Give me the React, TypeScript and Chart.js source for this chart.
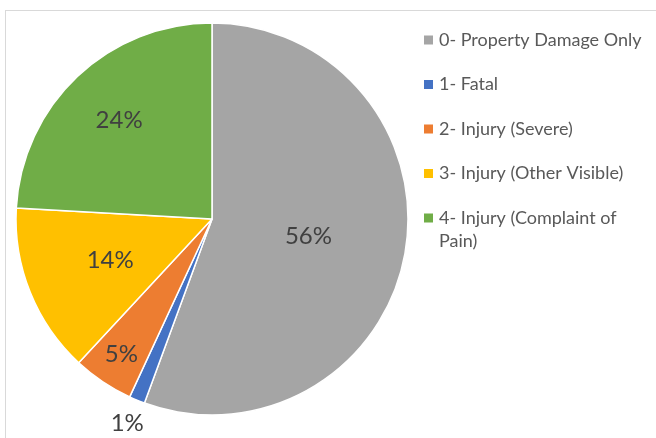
import React, { useEffect, useRef } from "react";
import { Chart, registerables } from "chart.js";

Chart.register(...registerables);

const categories = [
  "0- Property Damage Only",
  "1- Fatal",
  "2- Injury (Severe)",
  "3- Injury (Other Visible)",
  "4- Injury (Complaint of Pain)",
];
const shares = [55.6, 1.3, 5.0, 14.0, 24.1];
const colors = ["#A5A5A5", "#4472C4", "#ED7D31", "#FFC000", "#70AD47"];
// radial position of each percentage label, as a fraction of the radius
const labelRadius = [0.5, 1.13, 0.83, 0.56, 0.69];

const FONT = "Lato, 'Open Sans', sans-serif";

const labelPlugin = {
  id: "pctLabels",
  afterDatasetsDraw(chart: any) {
    const { ctx } = chart;
    const meta = chart.getDatasetMeta(0);
    const data = chart.data.datasets[0].data as number[];
    const total = data.reduce((a, b) => a + b, 0);
    ctx.save();
    ctx.fillStyle = "#404040";
    ctx.font = `24px ${FONT}`;
    ctx.textAlign = "center";
    ctx.textBaseline = "middle";
    meta.data.forEach((arc: any, i: number) => {
      const p = arc.getProps(["x", "y", "startAngle", "endAngle", "outerRadius"], true);
      const mid = (p.startAngle + p.endAngle) / 2;
      const r = p.outerRadius * labelRadius[i];
      const x = p.x + Math.cos(mid) * r;
      const y = p.y + Math.sin(mid) * r;
      ctx.fillText(Math.round((data[i] / total) * 100) + "%", x, y);
    });
    ctx.restore();
  },
};

const legendPlugin = {
  id: "sideLegend",
  afterDraw(chart: any) {
    const { ctx } = chart;
    const labels = chart.data.labels as string[];
    const bg = chart.data.datasets[0].backgroundColor as string[];
    const left = 424;
    const textX = 439;
    const maxW = 212;
    const top = 40;
    const rowGap = 44.5;
    const lineH = 23;
    ctx.save();
    ctx.font = `18px ${FONT}`;
    ctx.textBaseline = "middle";
    ctx.textAlign = "left";
    labels.forEach((label, i) => {
      const y = top + i * rowGap;
      ctx.fillStyle = bg[i];
      ctx.fillRect(left, y - 4.5, 9, 9);
      const words = label.split(" ");
      const lines: string[] = [];
      let cur = "";
      words.forEach((w) => {
        const test = cur ? cur + " " + w : w;
        if (ctx.measureText(test).width > maxW && cur) {
          lines.push(cur);
          cur = w;
        } else cur = test;
      });
      if (cur) lines.push(cur);
      ctx.fillStyle = "#595959";
      lines.forEach((ln, j) => ctx.fillText(ln, textX, y + j * lineH));
    });
    ctx.restore();
  },
};

export default function App() {
  const ref = useRef<HTMLCanvasElement>(null);
  useEffect(() => {
    const chart = new Chart(ref.current!, {
      type: "pie",
      data: {
        labels: categories,
        datasets: [
          {
            data: shares,
            backgroundColor: colors,
            borderColor: "#ffffff",
            borderWidth: 1.5,
            hoverOffset: 0,
          },
        ],
      },
      options: {
        animation: false,
        responsive: false,
        layout: {
          padding: { left: 15.25, top: 22.25, bottom: 22.25, right: 247.25 },
        },
        plugins: {
          legend: { display: false },
          tooltip: { enabled: false },
        },
      },
      plugins: [labelPlugin, legendPlugin],
    });
    return () => chart.destroy();
  }, []);
  return (
    <div style={{ position: "fixed", left: 0, top: 0, width: 656, height: 438, background: "#fff" }}>
      <div
        style={{
          position: "absolute",
          left: 5,
          top: 10,
          right: 0,
          bottom: 0,
          borderTop: "1px solid #D9D9D9",
          borderLeft: "1px solid #D9D9D9",
        }}
      />
      <canvas ref={ref} width={656} height={438} style={{ position: "absolute", left: 0, top: 0 }} />
    </div>
  );
}
